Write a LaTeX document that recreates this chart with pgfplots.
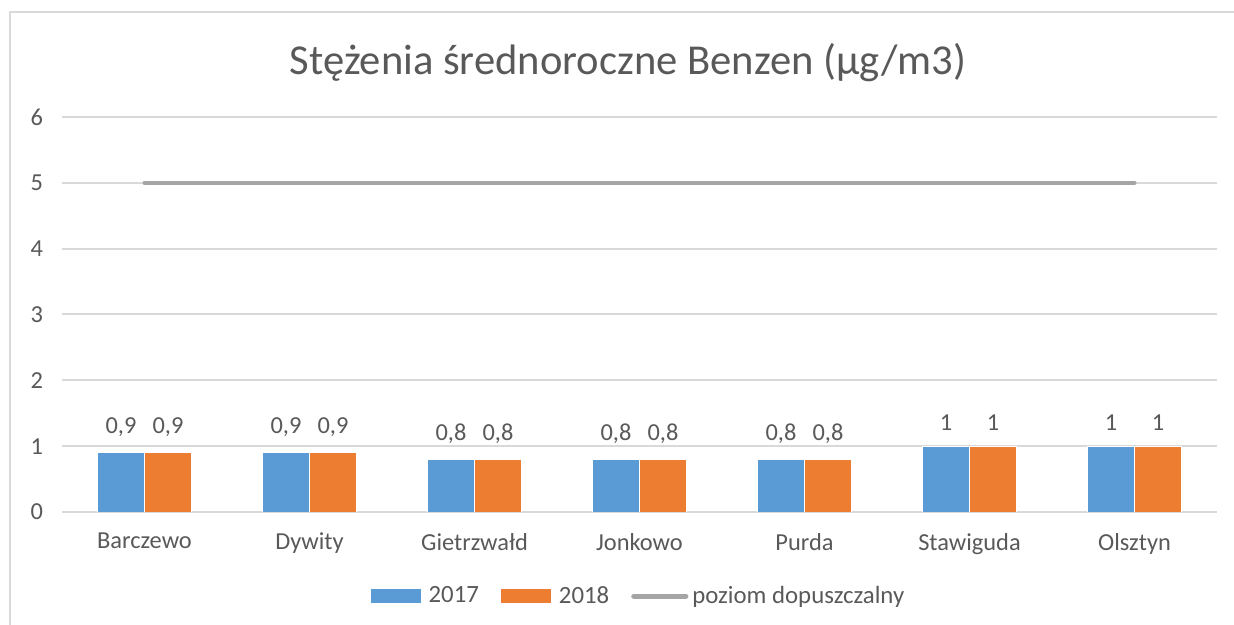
\documentclass[border=0pt]{standalone}
\usepackage{fontspec}
\setmainfont{Carlito}
\usepackage{pgfplots}
\pgfplotsset{compat=1.18}
\definecolor{cblue}{HTML}{5B9BD5}
\definecolor{corange}{HTML}{ED7D31}
\definecolor{cgray}{HTML}{A5A5A5}
\definecolor{ctext}{HTML}{595959}
\definecolor{cgrid}{HTML}{D9D9D9}
\begin{document}
\begin{tikzpicture}
\path[use as bounding box] (0pt,0pt) rectangle (617pt,312.5pt);
\draw[cgrid, line width=1pt] (5pt,0pt) -- (5pt,306.25pt) -- (617pt,306.25pt);
\node[text=ctext, font=\fontsize{21.3}{25}\selectfont] at (314pt,281pt) {Stężenia średnoroczne Benzen (µg/m3)};
\begin{axis}[
  at={(31pt,56.5pt)}, anchor=south west,
  scale only axis, width=577.5pt, height=197.5pt,
  xmin=-0.5, xmax=6.5, ymin=0, ymax=6,
  ytick={0,1,...,6},
  xtick={0,...,6},
  xticklabels={Barczewo,Dywity,Gietrzwałd,Jonkowo,Purda,Stawiguda,Olsztyn},
  axis line style={draw=none},
  major tick length=0pt,
  ymajorgrids, grid style={cgrid, line width=1pt},
  tick label style={text=ctext, font=\fontsize{12.2}{14}\selectfont},
  xticklabel style={yshift=-7pt},
  yticklabel style={xshift=-6pt},
  /pgf/number format/assume math mode=true,
  /pgf/number format/use comma,
  legend columns=3,
  legend style={at={(0.5,-0.213)}, anchor=center, draw=none, fill=none,
    font=\fontsize{12.4}{14}\selectfont, text=ctext,
    /tikz/every even column/.append style={column sep=9pt}},
]
\addplot[ybar, bar width=23.5pt, bar shift=-11.75pt, fill=cblue, draw=white, line width=0.3pt,
  nodes near coords,
  every node near coord/.append style={text=ctext, font=\fontsize{12.2}{14}\selectfont, yshift=4.5pt, xshift=-11.75pt},
  legend image code/.code={\fill[cblue, draw=none] (0pt,-3.5pt) rectangle (25pt,3.5pt); \path[draw=none, fill=none] (0pt,0pt) -- (27pt,0pt);}]
  coordinates {(0,0.9) (1,0.9) (2,0.8) (3,0.8) (4,0.8) (5,1) (6,1)};
\addplot[ybar, bar width=23.5pt, bar shift=11.75pt, fill=corange, draw=white, line width=0.3pt,
  nodes near coords,
  every node near coord/.append style={text=ctext, font=\fontsize{12.2}{14}\selectfont, yshift=4.5pt, xshift=11.75pt},
  legend image code/.code={\fill[corange, draw=none] (0pt,-3.5pt) rectangle (25pt,3.5pt); \path[draw=none, fill=none] (0pt,0pt) -- (27pt,0pt);}]
  coordinates {(0,0.9) (1,0.9) (2,0.8) (3,0.8) (4,0.8) (5,1) (6,1)};
\addplot[cgray, line width=2pt, line cap=round, mark=none,
  legend image code/.code={\draw[cgray, line width=2.6pt, line cap=round] (1pt,0pt) -- (27pt,0pt);}]
  coordinates {(0,5) (6,5)};
\legend{2017,2018,poziom dopuszczalny}
\end{axis}
\end{tikzpicture}
\end{document}
